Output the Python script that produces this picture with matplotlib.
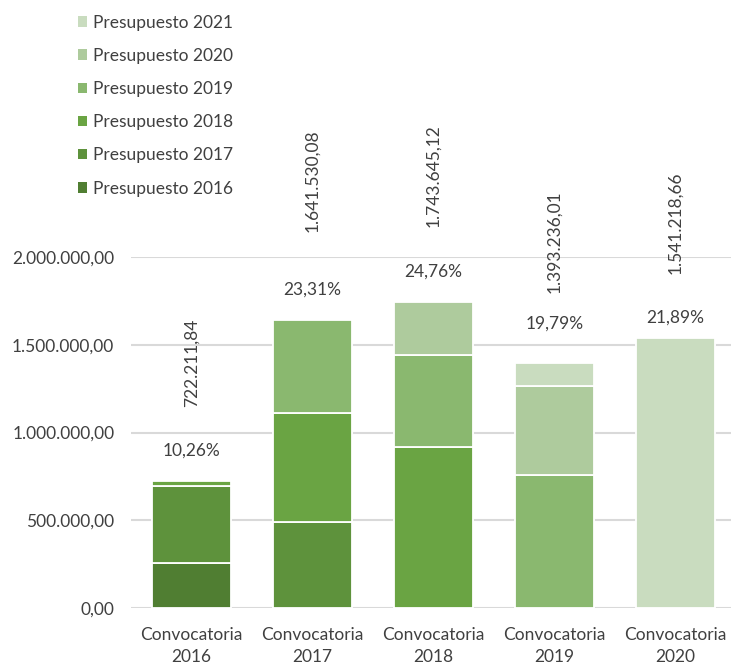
import numpy as np
import matplotlib.pyplot as plt
from matplotlib.patches import Patch

# data
categories = ['Convocatoria\n2016', 'Convocatoria\n2017', 'Convocatoria\n2018',
              'Convocatoria\n2019', 'Convocatoria\n2020']
series_names = ['Presupuesto 2016', 'Presupuesto 2017', 'Presupuesto 2018',
                'Presupuesto 2019', 'Presupuesto 2020', 'Presupuesto 2021']
p2016 = [257000, 0, 0, 0, 0]
p2017 = [440000, 492000, 0, 0, 0]
p2018 = [25211.84, 621000, 919000, 0, 0]
p2019 = [0, 528530.08, 522000, 758000, 0]
p2020 = [0, 0, 302645.12, 509000, 0]
p2021 = [0, 0, 0, 126236.01, 1541218.66]
totals = [722211.84, 1641530.08, 1743645.12, 1393236.01, 1541218.66]
percents = [10.26, 23.31, 24.76, 19.79, 21.89]

colors = ['#507e32', '#5e923c', '#6aa443', '#8ab86f', '#aecb9d', '#c9dcbf']

# label offsets (pixels above bar top)
pct_off = [31, 30, 30, 40, 20]
tot_off = [74, 88, 75, 70, 64]


def es_fmt(v):
    s = '{:,.2f}'.format(v)
    return s.replace(',', 'X').replace('.', ',').replace('X', '.')


plt.rcParams['font.family'] = ['Lato', 'DejaVu Sans']
txt_col = '#404040'
fs = 12.5

fig = plt.figure(figsize=(7.31, 6.64), dpi=100)
ax = fig.add_axes([131 / 731, 56 / 664, 600 / 731, 351 / 664])

x = np.arange(len(categories))
bottom = np.zeros(len(categories))
data = [p2016, p2017, p2018, p2019, p2020, p2021]
for vals, col in zip(data, colors):
    vals = np.array(vals, dtype=float)
    m = vals > 0
    ax.bar(x[m], vals[m], bottom=bottom[m], width=0.65, color=col,
           edgecolor='white', linewidth=1.3, zorder=3)
    bottom += vals

for i in range(len(categories)):
    ax.annotate('{:.2f}%'.format(percents[i]).replace('.', ','),
                (x[i], totals[i]), xytext=(0, pct_off[i]),
                textcoords='offset pixels', ha='center', va='center',
                fontsize=fs, color=txt_col)
    ax.annotate(es_fmt(totals[i]), (x[i], totals[i]),
                xytext=(0, tot_off[i]), textcoords='offset pixels',
                ha='center', va='bottom', rotation=90,
                fontsize=fs, color=txt_col)

ax.set_xlim(-0.5, 4.46)
ax.set_ylim(0, 2000000)
ax.set_yticks([0, 500000, 1000000, 1500000, 2000000])
ax.set_yticklabels([es_fmt(v) for v in [0, 500000, 1000000, 1500000, 2000000]])
ax.set_xticks(x)
ax.set_xticklabels(categories, linespacing=1.4)
ax.tick_params(axis='both', length=0, labelsize=fs, labelcolor=txt_col)
ax.tick_params(axis='y', pad=12)
ax.tick_params(axis='x', pad=14)
ax.grid(axis='y', color='#d9d9d9', linewidth=1.5, zorder=0)
ax.set_axisbelow(True)
for s in ax.spines.values():
    s.set_visible(False)

handles = [Patch(facecolor=c, edgecolor='none') for c in colors]
leg = fig.legend(handles[::-1], series_names[::-1], loc='upper left',
                 bbox_to_anchor=(62 / 731, 1 + 1 / 664), frameon=False,
                 fontsize=fs, handlelength=0.55, handleheight=0.55,
                 handletextpad=0.35, labelspacing=0.99)
for t in leg.get_texts():
    t.set_color(txt_col)

fig.savefig('out.png', dpi=100)
